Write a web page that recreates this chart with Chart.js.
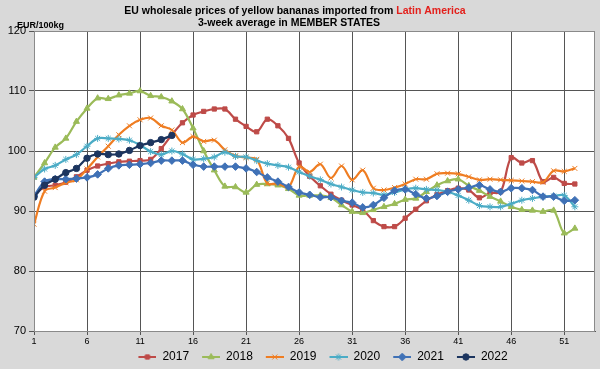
<!DOCTYPE html>
<html>
<head>
<meta charset="utf-8">
<script src="https://cdn.jsdelivr.net/npm/chart.js@4.4.1/dist/chart.umd.min.js"></script>
<style>
  html, body { margin: 0; padding: 0; background: #d9d9d9; }
  #wrap { width: 600px; height: 369px; }
</style>
</head>
<body>
<div id="wrap"><canvas id="bananaChart" width="600" height="369"></canvas></div>
<script>
// weekly prices, EUR/100kg
const weeks = [1, 2, 3, 4, 5, 6, 7, 8, 9, 10, 11, 12, 13, 14, 15, 16, 17, 18, 19, 20,
    21, 22, 23, 24, 25, 26, 27, 28, 29, 30, 31, 32, 33, 34, 35, 36, 37, 38, 39, 40,
    41, 42, 43, 44, 45, 46, 47, 48, 49, 50, 51, 52];
const xTickWeeks = [1, 6, 11, 16, 21, 26, 31, 36, 41, 46, 51];
const yearLabels = ['2017', '2018', '2019', '2020', '2021', '2022'];

const prices2017 = [92.7, 94.0, 94.3, 94.8, 95.7, 96.8, 97.5, 97.9, 98.2, 98.3,
    98.4, 98.6, 100.4, 102.7, 104.7, 106.0, 106.6, 107.0, 107.0, 105.3,
    104.1, 103.2, 105.3, 104.2, 102.1, 98.0, 95.8, 94.2, 92.8, 91.8,
    91.0, 90.2, 88.4, 87.4, 87.4, 88.8, 90.3, 91.7, 92.7, 93.4,
    93.8, 93.5, 92.2, 93.0, 93.2, 98.9, 98.0, 98.4, 94.9, 95.6, 94.6, 94.5];
const prices2018 = [95.6, 98.0, 100.6, 102.1, 104.9, 107.1, 108.8, 108.7, 109.3, 109.6,
    110.0, 109.2, 109.0, 108.3, 107.0, 103.8, 100.0, 96.8, 94.1, 94.0,
    93.1, 94.4, 94.5, 94.3, 93.7, 92.6, 92.6, 92.6, 92.2, 91.0,
    89.9, 89.7, 90.2, 90.7, 91.2, 91.9, 92.1, 93.2, 94.3, 95.0,
    95.3, 94.2, 93.4, 92.4, 91.6, 90.7, 90.2, 90.1, 89.9, 90.1, 86.3, 87.1];
const prices2019 = [87.8, 93.3, 93.9, 94.7, 95.2, 97.0, 99.0, 100.8, 102.7, 104.2,
    105.2, 105.5, 104.2, 103.5, 101.4, 102.4, 101.6, 101.8, 100.2, 99.2,
    98.9, 98.6, 94.6, 94.6, 94.0, 97.4, 96.5, 97.8, 95.5, 97.5,
    95.2, 96.8, 93.8, 93.5, 93.9, 94.5, 95.3, 95.3, 96.2, 96.3,
    96.2, 95.7, 95.2, 95.3, 95.2, 95.1, 95.0, 94.9, 94.8, 96.7, 96.6, 97.1];
const prices2020 = [95.6, 97.0, 97.6, 98.6, 99.4, 100.8, 102.1, 102.1, 102.0, 101.8,
    101.0, 99.9, 99.4, 100.0, 99.5, 98.6, 98.7, 99.0, 99.8, 99.1,
    99.0, 98.4, 97.9, 97.6, 97.3, 96.5, 95.8, 95.2, 94.5, 94.0,
    93.5, 93.1, 93.0, 92.7, 93.1, 93.6, 93.8, 93.6, 93.5, 93.2,
    92.6, 91.8, 90.9, 90.7, 90.7, 91.2, 91.8, 92.1, 92.4, 92.5, 92.6, 90.7];
const prices2021 = [92.5, 94.9, 95.3, 95.3, 95.4, 95.6, 96.1, 97.1, 97.6, 97.7,
    97.8, 98.0, 98.4, 98.4, 98.4, 97.7, 97.4, 97.4, 97.4, 97.4,
    97.1, 96.5, 95.6, 94.9, 94.0, 93.1, 92.7, 92.3, 92.3, 91.7,
    91.4, 90.6, 91.0, 92.2, 93.4, 93.6, 92.8, 92.1, 92.5, 93.2,
    93.6, 93.9, 94.3, 93.6, 93.2, 93.8, 93.8, 93.5, 92.4, 92.4, 91.7, 91.8];
const prices2022 = [92.3, 94.3, 95.3, 96.4, 97.1, 98.8, 99.5, 99.4, 99.5, 100.1,
    100.9, 101.4, 101.9, 102.6];

const allPrices = [prices2017, prices2018, prices2019, prices2020, prices2021, prices2022];
const colors = ['#be4b48', '#9bbb59', '#ef7d22', '#4bacc6', '#3f71b6', '#1c355f'];
const markers = ['rect', 'triangle', 'crossRot', 'star', 'rectRot', 'circle'];
const markerSize = [3, 3.5, 3.5, 3.5, 3.8, 3.2];

// small line+marker icon for the legend
function legendIcon(i) {
    const c = document.createElement('canvas');
    c.width = 26;
    c.height = 10;
    const g = c.getContext('2d');
    g.strokeStyle = colors[i];
    g.fillStyle = colors[i];
    g.lineWidth = 2;
    g.beginPath();
    g.moveTo(8, 5);
    g.lineTo(26, 5);
    g.stroke();
    g.lineWidth = 1;
    Chart.helpers.drawPoint(g, {pointStyle: markers[i], radius: markerSize[i], rotation: 0, borderWidth: 1}, 17, 5);
    return c;
}

const datasets = allPrices.map((prices, i) => ({
    label: yearLabels[i],
    data: prices.map((p, j) => ({x: weeks[j], y: p})),
    borderColor: colors[i],
    backgroundColor: colors[i],
    borderWidth: 2.2,
    pointStyle: markers[i],
    pointRadius: markerSize[i],
    pointBorderWidth: 1,
    tension: 0.35,
    order: 6 - i
}));

const backdrop = {
    id: 'backdrop',
    beforeDraw(chart) {
        const ctx = chart.ctx;
        const a = chart.chartArea;
        ctx.save();
        ctx.fillStyle = '#d9d9d9';
        ctx.fillRect(0, 0, chart.width, chart.height);
        ctx.fillStyle = '#ffffff';
        ctx.fillRect(a.left, a.top, a.right - a.left, a.bottom - a.top);
        ctx.restore();
    },
    afterDatasetsDraw(chart) {
        const ctx = chart.ctx;
        const a = chart.chartArea;
        ctx.save();
        ctx.strokeStyle = '#8a8a8a';
        ctx.lineWidth = 1;
        ctx.strokeRect(a.left + 0.5, a.top + 0.5, a.right - a.left - 1, a.bottom - a.top);
        ctx.restore();
    },
    afterDraw(chart) {
        const ctx = chart.ctx;
        ctx.save();
        ctx.textBaseline = 'alphabetic';
        ctx.fillStyle = '#000';
        let part1 = 'EU wholesale prices of yellow bananas imported from ';
        let part2 = 'Latin America';
        ctx.font = 'bold 10.5px "Liberation Sans", Arial, sans-serif';
        let w1 = ctx.measureText(part1).width;
        let w2 = ctx.measureText(part2).width;
        let x0 = 295 - (w1 + w2) / 2;
        ctx.textAlign = 'left';
        ctx.fillText(part1, x0, 14);
        ctx.fillStyle = '#e3201c';
        ctx.fillText(part2, x0 + w1, 14);
        ctx.fillStyle = '#000';
        ctx.textAlign = 'center';
        ctx.fillText('3-week average in MEMBER STATES', 289, 26);
        ctx.textAlign = 'left';
        ctx.font = 'bold 9px "Liberation Sans", Arial, sans-serif';
        ctx.fillText('EUR/100kg', 17, 28);
        ctx.restore();
    },
    afterLayout(chart) {
        // legend in the original sits a little right of centre
        chart.legend.left += 20;
        chart.legend.right += 20;
    }
};

new Chart(document.getElementById('bananaChart').getContext('2d'), {
    type: 'line',
    data: {datasets: datasets},
    plugins: [backdrop],
    options: {
        responsive: false,
        animation: false,
        devicePixelRatio: 1,
        layout: {padding: {top: 31, right: 2, left: 0, bottom: -4}},
        plugins: {
            title: {display: false},
            tooltip: {enabled: false},
            legend: {
                position: 'bottom',
                labels: {
                    usePointStyle: true,
                    pointStyleWidth: 26,
                    boxHeight: 12,
                    padding: 5,
                    color: '#000',
                    font: {family: '"Liberation Sans", Arial, sans-serif', size: 12},
                    generateLabels(chart) {
                        return chart.data.datasets.map((ds, i) => ({
                            text: ds.label,
                            pointStyle: legendIcon(i),
                            fillStyle: 'transparent',
                            strokeStyle: 'transparent',
                            lineWidth: 0,
                            hidden: false,
                            datasetIndex: i
                        }));
                    }
                }
            }
        },
        scales: {
            x: {
                type: 'linear',
                min: 1,
                max: 53.9,
                afterBuildTicks(scale) {
                    scale.ticks = xTickWeeks.map(v => ({value: v}));
                },
                afterFit(scale) {
                    scale.height = 15;
                },
                ticks: {
                    autoSkip: false,
                    maxRotation: 0,
                    padding: 1,
                    color: '#000',
                    font: {family: '"Liberation Sans", Arial, sans-serif', size: 9}
                },
                grid: {color: '#555', lineWidth: 1, tickLength: 4},
                border: {color: '#555'}
            },
            y: {
                min: 70,
                max: 120,
                afterFit(scale) {
                    scale.width = 34;
                },
                ticks: {
                    stepSize: 10,
                    padding: 3,
                    color: '#000',
                    font: {family: '"Liberation Sans", Arial, sans-serif', size: 11}
                },
                grid: {color: '#555', lineWidth: 1, tickLength: 5},
                border: {color: '#555'}
            }
        }
    }
});
</script>
</body>
</html>
